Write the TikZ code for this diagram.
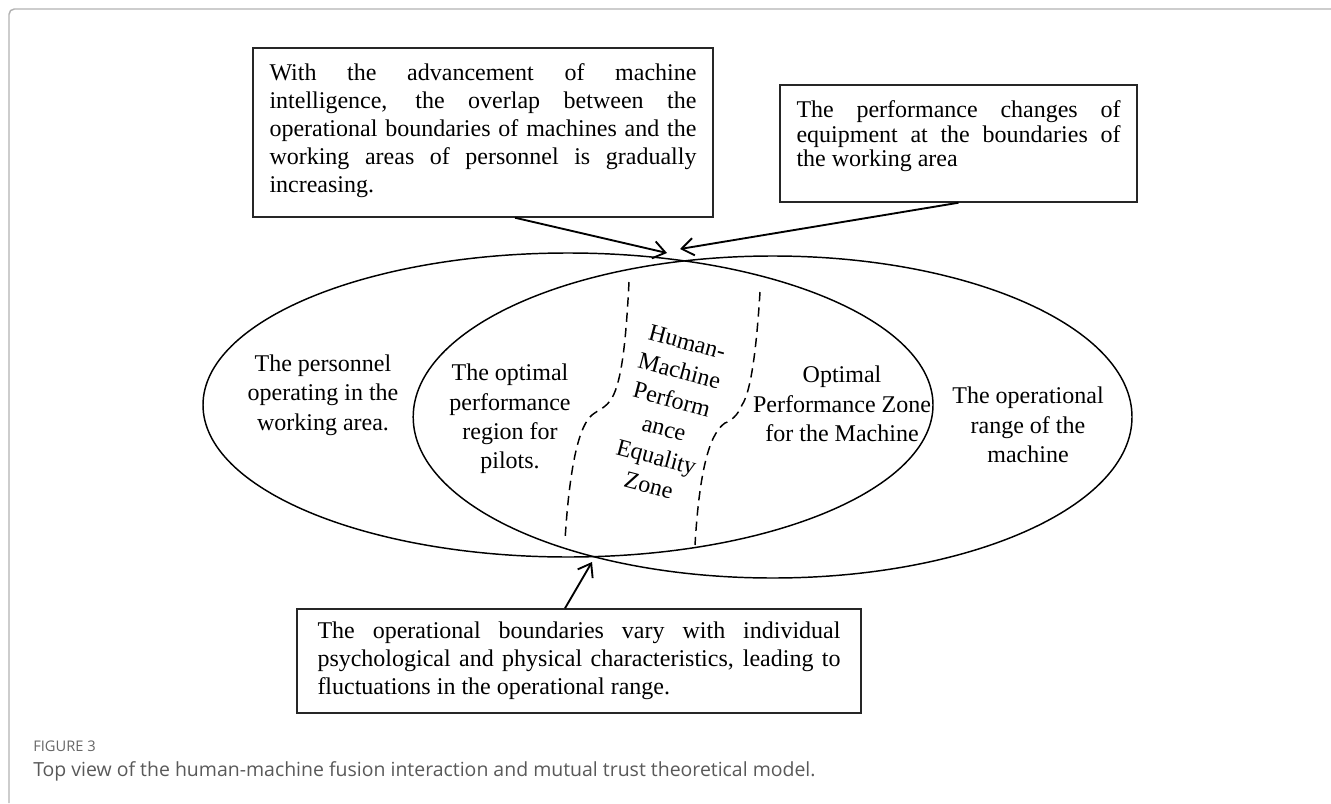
\documentclass[tikz,border=0pt]{standalone}
\usepackage{fontspec}
\setmainfont{Liberation Serif}
\newfontfamily\capfont{Open Sans}
\usetikzlibrary{arrows.meta}
\begin{document}
\begin{tikzpicture}[x=0.75pt,y=-0.75pt,
  ell/.style={line width=1.1pt},
  dsh/.style={line width=1.1pt, dash pattern=on 7pt off 4.5pt},
  box/.style={draw=black!85, line width=1.1pt, align=justify, inner ysep=0pt,
    font=\fontsize{18}{21}\selectfont},
  lbl/.style={align=center, inner sep=0pt, font=\fontsize{18}{22}\selectfont},
  arr/.style={line width=1.4pt, -{Straight Barb[length=9pt,width=13pt,line width=1.4pt]}},
]
\useasboundingbox (0,0) rectangle (1331,803);
% frame
\draw[line width=1.1pt, black!30, rounded corners=4pt] (9,803) -- (9,9) -- (1331,9);

% ellipses
\draw[ell] (568,405) ellipse [x radius=273.75pt, y radius=114pt];
\draw[ell] (772.6,417) ellipse [x radius=269.55pt, y radius=120.75pt];

% dashed boundaries
\draw[dsh] (629,282) .. controls (626,340) and (622,380) .. (612,398)
  .. controls (606,408) and (598,410) .. (592,415)
  .. controls (580,425) and (570,460) .. (565,540);
\draw[dsh] (760,292) .. controls (757,340) and (752,390) .. (742,405)
  .. controls (738,415) and (731,421) .. (725,423)
  .. controls (712,432) and (700,460) .. (695,545);

% boxes
\node[box, text width=320.25pt, inner xsep=12.4pt, minimum height=126.75pt] (b1) at (483,132.5)
{With the advancement of machine\linebreak intelligence, the overlap between the\linebreak operational boundaries of machines and the\linebreak working areas of personnel is gradually\linebreak increasing.\par\vspace*{3pt}\hrule height 0pt};
\node[box, text width=243pt, inner xsep=12.4pt, minimum height=87.75pt,
  font=\fontsize{18}{18.5}\selectfont] (b2) at (958.5,143.5)
{The performance changes of\linebreak equipment at the boundaries of\linebreak the working area\par\vspace*{11pt}\hrule height 0pt};
\node[box, text width=392.25pt, inner xsep=15.4pt, minimum height=78pt] (b3) at (579,661)
{The operational boundaries vary with individual\linebreak psychological and physical characteristics, leading to\linebreak fluctuations in the operational range.};

% region labels
\node[lbl] (personnel) at (323,395) {The personnel\\operating in the\\working area.};
\node[lbl] (pilots) at (510,419) {The optimal\\performance\\region for\\pilots.};
\node[lbl, rotate=-15, font=\fontsize{18}{22.3}\selectfont] (equal) at (668,414) {Human-\\Machine\\Perform\\ance\\Equality\\Zone};
\node[lbl] (machzone) at (842,404) {Optimal\\Performance Zone\\for the Machine};
\node[lbl] (machrange) at (1028,425) {The operational\\range of the\\machine};

% arrow targets
\coordinate (t1) at (667,253);
\coordinate (t2) at (680,249);
\coordinate (t3) at (592,562);
\draw[arr] ([xshift=24pt]b1.south) -- (t1);
\draw[arr] (b2.south) -- (t2);
\draw[arr] ([xshift=-10.5pt]b3.north) -- (t3);

% caption
\node[anchor=base west, inner sep=0pt, text=black!60, font=\capfont\fontsize{11}{13}\selectfont] (fig) at (33,751) {FIGURE 3};
\node[anchor=base west, inner sep=0pt, text=black!65, font=\capfont\fontsize{14.6}{17}\selectfont] (cap) at (33,776) {Top view of the human-machine fusion interaction and mutual trust theoretical model.};
\end{tikzpicture}
\end{document}
